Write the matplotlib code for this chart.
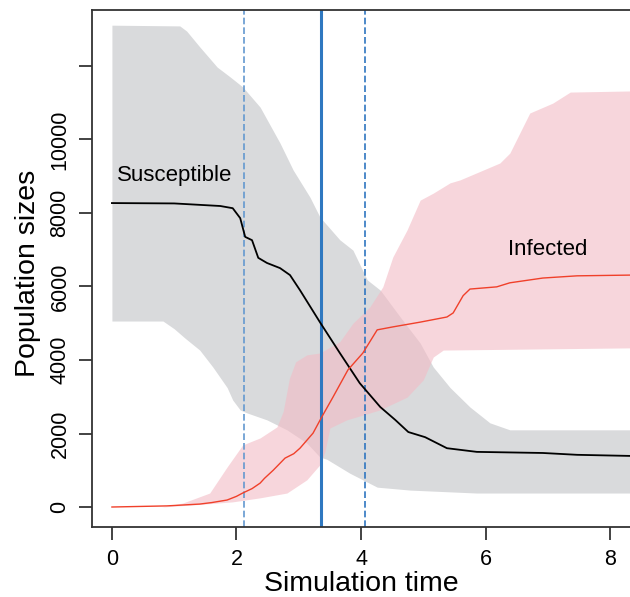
import numpy as np
import matplotlib.pyplot as plt

plt.rcParams['font.family'] = ['Liberation Sans', 'DejaVu Sans']

# susceptible: median and band
s_t = [0, 1.0, 1.74, 1.94, 2.06, 2.14, 2.25, 2.35, 2.49, 2.70, 2.86, 3.02, 3.34, 3.66,
       3.98, 4.31, 4.55, 4.76, 5.03, 5.38, 5.86, 6.92, 7.47, 8.32]
s_v = [8270, 8260, 8190, 8130, 7860, 7350, 7260, 6780, 6640, 6500, 6310, 5900, 5030, 4190,
       3370, 2720, 2370, 2040, 1900, 1600, 1500, 1470, 1420, 1390]

gu_t = [0, 1.09, 1.2, 1.41, 1.69, 1.9, 2.1, 2.38, 2.7, 2.91, 3.18, 3.34, 3.66, 3.87, 4.10,
        4.31, 4.63, 4.95, 5.16, 5.43, 5.75, 6.07, 6.39, 8.32]
gu_v = [13110, 13090, 12950, 12520, 11970, 11700, 11430, 10880, 9900, 9170, 8430, 7890, 7270, 6990, 6180,
        5900, 5170, 4460, 3810, 3250, 2720, 2290, 2100, 2100]

gl_t = [0, 0.82, 1.0, 1.17, 1.41, 1.62, 1.85, 1.94, 2.06, 2.17, 2.49, 2.81, 3.13, 3.34, 3.45,
        3.82, 4.26, 4.79, 5.86, 8.32]
gl_v = [5060, 5060, 4850, 4600, 4270, 3810, 3250, 2910, 2640, 2560, 2370, 2100, 1740, 1360, 1300,
        920, 540, 460, 380, 380]

# infected: median and band
i_t = [0, 0.88, 1.41, 1.6, 1.85, 2.0, 2.10, 2.25, 2.38, 2.45, 2.59, 2.78, 2.92, 3.02, 3.23,
       3.37, 3.55, 3.79, 4.03, 4.26, 4.51, 4.95, 5.38, 5.48, 5.64, 5.75, 6.18, 6.39, 6.92,
       7.47, 8.32]
i_v = [0, 30, 80, 120, 190, 290, 380, 500, 650, 780, 1000, 1330, 1450, 1600, 2010,
       2450, 2990, 3730, 4190, 4820, 4900, 5030, 5170, 5280, 5750, 5930, 5990, 6100, 6230,
       6290, 6310]

iu_t = [0.8, 1.14, 1.57, 1.85, 2.10, 2.38, 2.65, 2.75, 2.85, 2.95, 3.13, 3.34, 3.66, 3.87,
        4.14, 4.35, 4.51, 4.74, 4.95, 5.16, 5.43, 5.59, 6.23, 6.39, 6.71, 7.08, 7.36, 8.32]
iu_v = [0, 110, 380, 1090, 1690, 1880, 2180, 2600, 3500, 3950, 4140, 4190, 4500, 5000,
        5440, 5990, 6800, 7540, 8350, 8540, 8820, 8900, 9360, 9630, 10720, 10990, 11290, 11320]

il_t = [0.8, 1.41, 1.94, 2.38, 2.81, 3.13, 3.34, 3.42, 3.5, 3.77, 4.3, 4.74, 5.0, 5.16, 5.32, 8.32]
il_v = [0, 70, 140, 250, 380, 740, 1150, 1500, 2150, 2370, 2640, 2990, 3460, 4080, 4270, 4330]

vlines_dashed = [2.12, 4.07]
dashed_colors = ['#6498cf', '#2f76c0']
vline_solid = 3.36

y_ticks = [0, 2000, 4000, 6000, 8000, 10000, 12000]
y_labels = ['0', '2000', '4000', '6000', '8000', '10000', '']
x_ticks = [0, 2, 4, 6, 8]


def band(t_up, v_up, t_lo, v_lo):
    tt = np.union1d(t_up, t_lo)
    return tt, np.interp(tt, t_up, v_up), np.interp(tt, t_lo, v_lo)


fig = plt.figure(figsize=(6.3, 5.97), dpi=100)
ax = fig.add_axes([92/630, 70/597, 538/630, 517/597])

tt, up, lo = band(gu_t, gu_v, gl_t, gl_v)
ax.fill_between(tt, lo, up, color='#d9dadc', lw=0)
tt, up, lo = band(iu_t, iu_v, il_t, il_v)
ax.fill_between(tt, lo, up, color=(243/255, 187/255, 197/255), alpha=0.6, lw=0)

for xv, c in zip(vlines_dashed, dashed_colors):
    ax.axvline(xv, color=c, lw=1.2, ls=(0, (4, 1.8)))
ax.axvline(vline_solid, color='#2f78c0', lw=2.2)

ax.plot(s_t, s_v, color='black', lw=1.3)
ax.plot(i_t, i_v, color='#f0402a', lw=1.0)

ax.text(1.01, 9030, 'Susceptible', fontsize=16, ha='center', va='center')
ax.text(7.0, 7020, 'Infected', fontsize=16, ha='center', va='center')

ax.set_xlim(-0.32, 8.32)
ax.set_ylim(-544, 13523)
ax.set_xticks(x_ticks)
ax.set_yticks(y_ticks)
ax.set_yticklabels(y_labels, rotation=90, va='center')
ax.tick_params(axis='both', labelsize=15.5, length=9.5, width=1.2, color='#222222')
ax.tick_params(axis='x', pad=6)
ax.tick_params(axis='y', pad=6)
ax.spines['right'].set_visible(False)
for sp in ['left', 'top', 'bottom']:
    ax.spines[sp].set_linewidth(1.3)
    ax.spines[sp].set_color('#333333')

ax.set_xlabel('Simulation time', fontsize=20.5, va='bottom')
ax.xaxis.set_label_coords(0.5, -70/517)
ax.set_ylabel('Population sizes', fontsize=20.5)
ax.yaxis.set_label_coords(-0.095, 0.49)

fig.savefig('out.png', dpi=100)
